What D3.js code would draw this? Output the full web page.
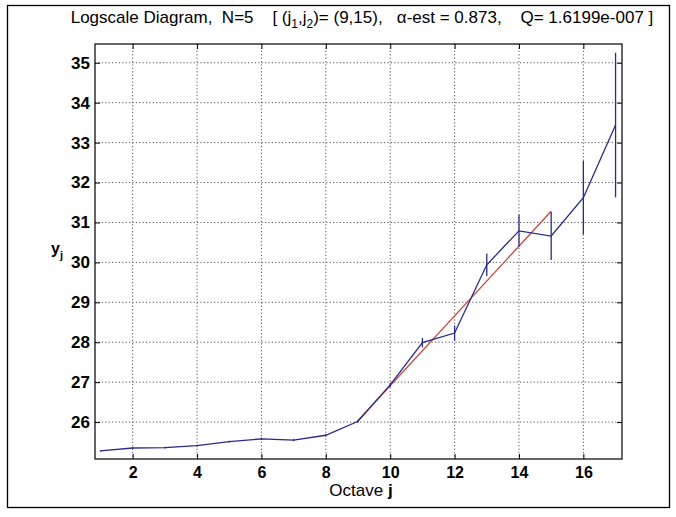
<!DOCTYPE html>
<html>
<head>
<meta charset="utf-8">
<script src="https://cdn.jsdelivr.net/npm/d3@7"></script>
<style>
  body { margin: 0; background: #fff; }
  text { font-family: Arial, "Liberation Sans", sans-serif; }
</style>
</head>
<body>
<svg id="chart" width="676" height="517"></svg>
<script>
// octaves and log-scale estimates
var octaves = [1, 2, 3, 4, 5, 6, 7, 8, 9, 10, 11, 12, 13, 14, 15, 16, 17];
var yj = [25.28, 25.35, 25.36, 25.41, 25.51, 25.58, 25.55, 25.67, 26.02, 26.93, 27.99, 28.23, 29.94, 30.79, 30.66, 31.62, 33.44];
// half width of confidence intervals
var halfWidth = [0.02, 0.02, 0.02, 0.02, 0.02, 0.03, 0.03, 0.03, 0.04, 0.05, 0.12, 0.19, 0.28, 0.40, 0.60, 0.92, 1.81];
// regression line over (j1, j2) = (9, 15)
var fitJ = [9, 15];
var fitY = [26.04, 31.28];
var xTicks = [2, 4, 6, 8, 10, 12, 14, 16];
var yTicks = [26, 27, 28, 29, 30, 31, 32, 33, 34, 35];

var svg = d3.select("#chart");
var pLeft = 95, pRight = 622, pTop = 44, pBottom = 459;

var x = d3.scaleLinear().domain([0.83, 17.2]).range([pLeft, pRight]);
var y = d3.scaleLinear().domain([25.075, 35.47]).range([pBottom, pTop]);

// outer frame
svg.append("rect")
  .attr("x", 7.5).attr("y", 5.5)
  .attr("width", 662).attr("height", 502)
  .style("fill", "none").style("stroke", "#000").style("stroke-width", 1.3);

// grid
var grid = svg.append("g");
xTicks.forEach(function(t) {
  grid.append("line")
    .attr("x1", x(t)).attr("x2", x(t))
    .attr("y1", pTop).attr("y2", pBottom)
    .style("stroke", "#555").style("stroke-dasharray", "1.2,2.2");
});
yTicks.forEach(function(t) {
  grid.append("line")
    .attr("x1", pLeft).attr("x2", pRight)
    .attr("y1", y(t)).attr("y2", y(t))
    .style("stroke", "#555").style("stroke-dasharray", "1.2,2.2");
});

// axes (MATLAB style box, ticks inward)
var xb = d3.axisBottom(x).tickValues(xTicks).tickSizeInner(-5).tickSizeOuter(0).tickPadding(8);
var xt = d3.axisTop(x).tickValues(xTicks).tickSizeInner(-5).tickSizeOuter(0).tickFormat("");
var yl = d3.axisLeft(y).tickValues(yTicks).tickSizeInner(-5).tickSizeOuter(0).tickPadding(5);
var yr = d3.axisRight(y).tickValues(yTicks).tickSizeInner(-5).tickSizeOuter(0).tickFormat("");

var gx = svg.append("g").attr("transform", "translate(0," + pBottom + ")").call(xb);
svg.append("g").attr("transform", "translate(0," + pTop + ")").call(xt);
var gy = svg.append("g").attr("transform", "translate(" + pLeft + ",0)").call(yl);
svg.append("g").attr("transform", "translate(" + pRight + ",0)").call(yr);

svg.selectAll(".domain").remove();
svg.selectAll(".tick line").style("stroke", "#000");
svg.selectAll(".tick text")
  .style("font-weight", "bold")
  .style("font-family", "Arial, 'Liberation Sans', sans-serif").style("fill", "#000");
gx.selectAll(".tick text").style("font-size", "16px");
gy.selectAll(".tick text").style("font-size", "17px");

svg.append("rect")
  .attr("x", pLeft).attr("y", pTop)
  .attr("width", pRight - pLeft).attr("height", pBottom - pTop)
  .style("fill", "none").style("stroke", "#000").style("stroke-width", 1.2);

// fit line
svg.append("line")
  .attr("x1", x(fitJ[0])).attr("y1", y(fitY[0]))
  .attr("x2", x(fitJ[1])).attr("y2", y(fitY[1]))
  .style("stroke", "#c4463c").style("stroke-width", 1.3);

// data line
var line = d3.line()
  .x(function(d, i) { return x(octaves[i]); })
  .y(function(d) { return y(d); });
svg.append("path")
  .datum(yj)
  .attr("d", line)
  .style("fill", "none").style("stroke", "#2a2a8e").style("stroke-width", 1.3);

// confidence intervals
svg.append("g").selectAll("line")
  .data(yj)
  .enter().append("line")
  .attr("x1", function(d, i) { return x(octaves[i]); })
  .attr("x2", function(d, i) { return x(octaves[i]); })
  .attr("y1", function(d, i) { return y(d - halfWidth[i]); })
  .attr("y2", function(d, i) { return y(d + halfWidth[i]); })
  .style("stroke", "#2a2a8e").style("stroke-width", 1.3);

// title
var title = svg.append("text")
  .attr("x", 362).attr("y", 23)
  .attr("text-anchor", "middle")
  .style("font-size", "17px").style("fill", "#000")
  .style("white-space", "pre");
title.append("tspan").text("Logscale Diagram,  N=5    [ (j");
title.append("tspan").attr("dy", 5).style("font-size", "12px").text("1");
title.append("tspan").attr("dy", -5).text(",j");
title.append("tspan").attr("dy", 5).style("font-size", "12px").text("2");
title.append("tspan").attr("dy", -5).text(")= (9,15),   \u03b1-est = 0.873,    Q= 1.6199e-007 ]");

// axis labels
var xlab = svg.append("text")
  .attr("x", 361).attr("y", 496)
  .attr("text-anchor", "middle")
  .style("font-size", "17px").style("fill", "#000")
  .style("white-space", "pre");
xlab.append("tspan").text("Octave ");
xlab.append("tspan").style("font-weight", "bold").text("j");

var ylab = svg.append("text")
  .attr("x", 51).attr("y", 254)
  .style("font-size", "16px").style("fill", "#000");
ylab.append("tspan").style("font-weight", "bold").text("y");
ylab.append("tspan").attr("dy", 5).style("font-size", "11px").style("font-weight", "bold").text("j");
</script>
</body>
</html>
